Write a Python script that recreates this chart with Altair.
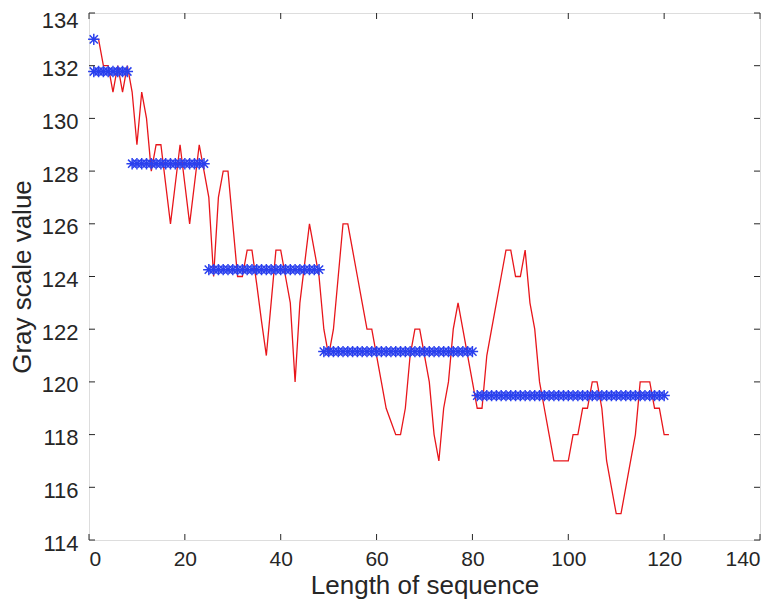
import altair as alt
import pandas as pd

# ---- data ----
red_x = list(range(1, 122))
red_y = [
    133, 133, 132, 132, 131, 132, 131, 132, 131, 129,
    131, 130, 128, 129, 129, 127.5, 126, 127.5, 129, 127.5,
    126, 127.5, 129, 128, 127, 124, 127, 128, 128, 126,
    124, 124, 125, 125, 123.7, 122.3, 121, 123, 125, 125,
    124, 123, 120, 123, 124.5, 126, 125, 124, 122, 121,
    122, 124, 126, 126, 125, 124, 123, 122, 122, 121,
    120, 119, 118.5, 118, 118, 119, 121, 122, 122, 121,
    120, 118, 117, 119, 120, 122, 123, 122, 121, 120,
    119, 119, 121, 122, 123, 124, 125, 125, 124, 124,
    125, 123, 122, 120, 119, 118, 117, 117, 117, 117,
    118, 118, 119, 119, 120, 120, 119, 117, 116, 115,
    115, 116, 117, 118, 120, 120, 120, 119, 119, 118,
    118,
]
blue_levels = [131.78, 128.28, 124.26, 121.15, 119.48]
blue_counts = [8, 16, 24, 32, 40]
first_x = [1]
first_y = [133]
x_ticks = [0, 20, 40, 60, 80, 100, 120, 140]
y_ticks = [114, 116, 118, 120, 122, 124, 126, 128, 130, 132, 134]

W, H = 671, 527
FONT = "Liberation Sans"
TXT = "#262626"
RED = "#e8161b"
BLUE = "#2a40ee"
STAR = "M-1,0L1,0M0,-1L0,1M-0.72,-0.72L0.72,0.72M-0.72,0.72L0.72,-0.72"

red_df = pd.DataFrame({"x": red_x, "y": red_y})
bx, by = [], []
pos = 1
for lvl, cnt in zip(blue_levels, blue_counts):
    for i in range(cnt):
        bx.append(pos + i)
        by.append(lvl)
    pos += cnt
blue_df = pd.DataFrame({"x": bx, "y": by})
first_df = pd.DataFrame({"x": first_x, "y": first_y})
xt_df = pd.DataFrame({"x": x_ticks})
yt_df = pd.DataFrame({"y": y_ticks})

xs = alt.Scale(domain=[0, 140], nice=False, zero=False)
ys = alt.Scale(domain=[114, 134], nice=False, zero=False)

xax = alt.Axis(values=x_ticks, title="Length of sequence", grid=False, domain=False,
               ticks=False, labelFont=FONT, labelFontSize=21, labelColor=TXT,
               labelPadding=8, titleFont=FONT, titleFontSize=26, titleColor=TXT,
               titleFontWeight="normal", titlePadding=3)
yax = alt.Axis(values=y_ticks, title="Gray scale value", grid=False, domain=False,
               ticks=False, labelFont=FONT, labelFontSize=22, labelColor=TXT,
               labelPadding=11,
               labelOffset={"condition": {"test": "datum.value == 134", "value": 7}, "value": 3},
               titleFont=FONT, titleFontSize=26,
               titleColor=TXT, titleFontWeight="normal", titlePadding=6)

red = alt.Chart(red_df).mark_line(color=RED, strokeWidth=1.3).encode(
    x=alt.X("x:Q", scale=xs, axis=xax),
    y=alt.Y("y:Q", scale=ys, axis=yax),
)
blue = alt.Chart(blue_df).mark_point(shape=STAR, size=130, color=BLUE, strokeWidth=1.5,
                                     filled=False, opacity=1).encode(
    x="x:Q", y="y:Q")
first = alt.Chart(first_df).mark_point(shape=STAR, size=130, color=BLUE, strokeWidth=1.5,
                                       filled=False, opacity=1).encode(
    x="x:Q", y="y:Q")

tl = alt.Chart(yt_df).mark_rule(color=TXT, strokeWidth=1).encode(
    y="y:Q", x=alt.value(0), x2=alt.value(6))
tr = alt.Chart(yt_df).mark_rule(color=TXT, strokeWidth=1).encode(
    y="y:Q", x=alt.value(W - 6), x2=alt.value(W))
tb = alt.Chart(xt_df).mark_rule(color=TXT, strokeWidth=1).encode(
    x="x:Q", y=alt.value(H), y2=alt.value(H - 6))
tt = alt.Chart(xt_df).mark_rule(color=TXT, strokeWidth=1).encode(
    x="x:Q", y=alt.value(0), y2=alt.value(6))

chart = alt.layer(red, blue, first, tl, tr, tb, tt).properties(
    width=W, height=H,
    padding={"left": 81, "top": 5, "right": 15, "bottom": 70},
    autosize="none",
).configure_view(stroke=TXT, strokeWidth=1).configure(background="white")

chart.save("out.html", embed_options={"renderer": "svg", "actions": False})
